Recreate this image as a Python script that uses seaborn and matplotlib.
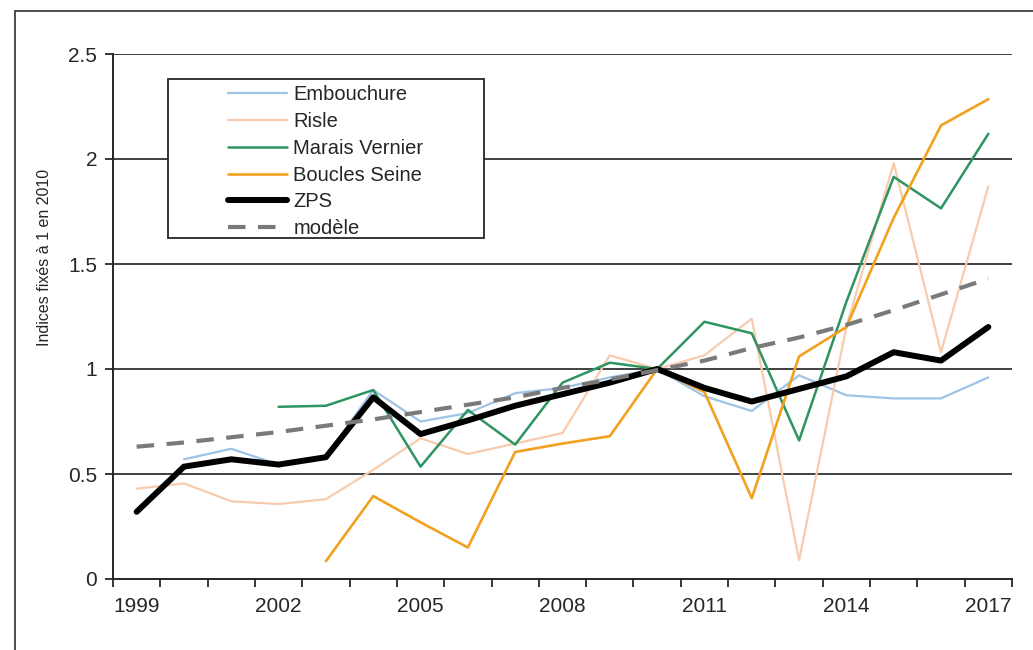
import numpy as np
import pandas as pd
import matplotlib
matplotlib.use('Agg')
import matplotlib.pyplot as plt
import seaborn as sns
from matplotlib.patches import Rectangle

nan = np.nan

years = list(range(1999, 2018))

embouchure = [nan, 0.57, 0.62, 0.545, 0.585, 0.90, 0.75, 0.79, 0.885, 0.91,
              0.96, 1.0, 0.87, 0.80, 0.97, 0.875, 0.86, 0.86, 0.96]
risle = [0.43, 0.455, 0.37, 0.357, 0.38, 0.52, 0.67, 0.595, 0.645, 0.695,
         1.065, 1.0, 1.065, 1.24, 0.09, 1.20, 1.98, 1.08, 1.87]
marais_vernier = [nan, nan, nan, 0.82, 0.825, 0.90, 0.535, 0.805, 0.64, 0.935,
                  1.03, 1.0, 1.225, 1.17, 0.66, 1.32, 1.915, 1.765, 2.12]
boucles_seine = [nan, nan, nan, nan, 0.085, 0.395, 0.27, 0.15, 0.605, 0.645,
                 0.68, 1.0, 0.89, 0.385, 1.06, 1.20, 1.72, 2.16, 2.285]
zps = [0.32, 0.535, 0.57, 0.545, 0.58, 0.865, 0.69, 0.755, 0.825, 0.88,
       0.935, 1.0, 0.91, 0.845, 0.905, 0.965, 1.08, 1.04, 1.20]
modele = [0.63, 0.65, 0.675, 0.70, 0.73, 0.76, 0.795, 0.83, 0.865, 0.91,
          0.95, 0.995, 1.04, 1.10, 1.15, 1.21, 1.28, 1.355, 1.43]

series_names = ['Embouchure', 'Risle', 'Marais Vernier', 'Boucles Seine', 'ZPS', 'modèle']
series_values = [embouchure, risle, marais_vernier, boucles_seine, zps, modele]

y_ticks = [0, 0.5, 1, 1.5, 2, 2.5]
y_tick_labels = ['0', '0.5', '1', '1.5', '2', '2.5']
x_label_years = [1999, 2002, 2005, 2008, 2011, 2014, 2017]

styles = {
    'Embouchure': dict(color='#9dc3e6', lw=1.6),
    'Risle': dict(color='#f8cbad', lw=1.6),
    'Marais Vernier': dict(color='#2e9462', lw=1.8),
    'Boucles Seine': dict(color='#f2a11f', lw=1.9),
    'ZPS': dict(color='#000000', lw=4.3),
    'modèle': dict(color='#7a7a7a', lw=3.0),
}

sns.set_style('white')
plt.rcParams['font.family'] = ['Liberation Sans', 'DejaVu Sans']

W, H = 1033, 650
fig = plt.figure(figsize=(W / 100, H / 100), dpi=100)
ax = fig.add_axes([113 / W, 1 - 579 / H, (1012 - 113) / W, (579 - 54) / H])

# outer chart frame (cut at right and bottom)
fig.patches.append(Rectangle((15 / W, -0.2), 2.0, 1.2 - 11 / H,
                             transform=fig.transFigure, fill=False,
                             edgecolor='#404040', lw=1.3, zorder=0))

for name, vals in zip(series_names, series_values):
    df = pd.DataFrame({'year': years, 'value': vals}).dropna()
    st = styles[name]
    sns.lineplot(data=df, x='year', y='value', ax=ax, color=st['color'],
                 linewidth=st['lw'], label=name, zorder=3)
    if name == 'modèle':
        ax.lines[-1].set_dashes((4.2, 3.0))

ax.set_xlim(1998.5, 2017.5)
ax.set_ylim(0, 2.5)
ax.set_yticks(y_ticks)
ax.set_yticklabels(y_tick_labels)
ax.set_xticks(x_label_years)
ax.set_xticklabels([str(y) for y in x_label_years])
ax.set_xticks([y + 0.5 for y in range(1998, 2018)], minor=True)
ax.tick_params(axis='x', which='major', bottom=True, length=0, pad=13,
               labelsize=15, labelcolor='#262626')
ax.tick_params(axis='x', which='minor', bottom=True, length=5.5, width=1.3,
               color='#262626', direction='out')
ax.tick_params(axis='y', which='major', left=True, length=5.5, width=1.3, color='#262626',
               direction='out', pad=6, labelsize=15, labelcolor='#262626')

ax.grid(False)
for yv in y_ticks[1:]:
    ax.axhline(yv, color='#404040', lw=1.4, zorder=1)

for side in ['top', 'right']:
    ax.spines[side].set_visible(False)
for side in ['left', 'bottom']:
    ax.spines[side].set_color('#262626')
    ax.spines[side].set_linewidth(1.4)

ax.set_xlabel('')
ax.set_ylabel('Indices fixés à 1 en 2010', fontsize=11.5, color='#262626')
ax.yaxis.set_label_coords((52 - 113) / (1012 - 113), (579 - 257) / (579 - 54))

# legend frame drawn as a box, legend itself without frame
ax.add_patch(Rectangle((168 / W, 1 - 238 / H), (484 - 168) / W, (238 - 79) / H,
                       transform=fig.transFigure, facecolor='white', clip_on=False,
                       edgecolor='#262626', lw=1.3, zorder=5))
handles, labels = ax.get_legend_handles_labels()
leg = ax.legend(handles, labels, loc='upper left',
                bbox_to_anchor=(222 / W, 1 - 79 / H), bbox_transform=fig.transFigure,
                frameon=False, fontsize=14.5, handlelength=2.95, handletextpad=0.3,
                labelspacing=0.39, borderpad=0.3, borderaxespad=0)
leg.set_zorder(6)
for t in leg.get_texts():
    t.set_color('#262626')

fig.savefig('out.png', dpi=100)
